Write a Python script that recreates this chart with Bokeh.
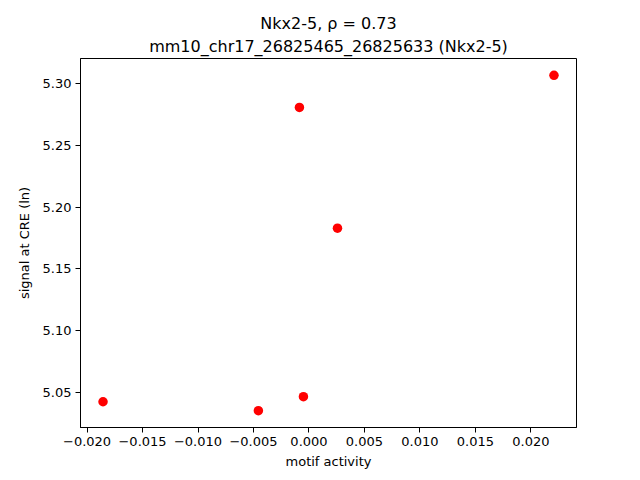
from bokeh.plotting import figure
from bokeh.models import Title, FixedTicker, CustomJSTickFormatter, Range1d
from bokeh.embed import file_html
from bokeh.resources import INLINE

# data
motif_activity = [-0.01856, -0.00456, -0.00086, -0.00050, 0.00257, 0.02208]
signal_ln = [5.0427, 5.0355, 5.2806, 5.0468, 5.1830, 5.3065]
x_ticks = [-0.020, -0.015, -0.010, -0.005, 0.000, 0.005, 0.010, 0.015, 0.020]
y_ticks = [5.05, 5.10, 5.15, 5.20, 5.25, 5.30]
title_line1 = "Nkx2-5, ρ = 0.73"
title_line2 = "mm10_chr17_26825465_26825633 (Nkx2-5)"

FONT = "DejaVu Sans"

p = figure(width=640, height=480, output_backend="svg", toolbar_location=None,
           x_range=Range1d(-0.02059, 0.02411), y_range=Range1d(5.0219, 5.3201),
           min_border_left=80, min_border_right=64, min_border_top=58, min_border_bottom=53)

# p.title ends up outermost (first line); the added Title sits next to the frame
p.title.text = title_line1
p.title.align = "center"
p.title.text_font = FONT
p.title.text_font_size = "16px"
p.title.text_font_style = "normal"
p.title.text_color = "black"
p.title.standoff = 0
p.add_layout(Title(text=title_line2, align="center", text_font=FONT, text_font_size="16px",
                   text_font_style="normal", text_color="black", standoff=5), "above")

p.scatter(motif_activity, signal_ln, size=9.5, color="red", line_color=None)

p.xgrid.visible = False
p.ygrid.visible = False
p.outline_line_color = "black"
p.outline_line_width = 1
p.background_fill_color = "white"
p.border_fill_color = "white"

p.xaxis.ticker = FixedTicker(ticks=x_ticks)
p.yaxis.ticker = FixedTicker(ticks=y_ticks)
p.xaxis.formatter = CustomJSTickFormatter(code="return (tick < -1e-12 ? '\u2212' : '') + Math.abs(tick).toFixed(3);")
p.yaxis.formatter = CustomJSTickFormatter(code="return tick.toFixed(2);")

for ax in (p.xaxis, p.yaxis):
    ax.major_tick_in = 0
    ax.major_tick_out = 5
    ax.minor_tick_line_color = None
    ax.axis_line_color = "black"
    ax.major_tick_line_color = "black"
    ax.major_label_text_font = FONT
    ax.major_label_text_font_size = "13px"
    ax.major_label_text_color = "black"
    ax.axis_label_text_font = FONT
    ax.axis_label_text_font_size = "13px"
    ax.axis_label_text_font_style = "normal"
    ax.axis_label_text_color = "black"
    ax.major_label_standoff = 4

p.xaxis.axis_label = "motif activity"
p.yaxis.axis_label = "signal at CRE (ln)"
p.xaxis.axis_label_standoff = 5
p.yaxis.axis_label_standoff = 8

open("out.html", "w").write(file_html(p, INLINE))
